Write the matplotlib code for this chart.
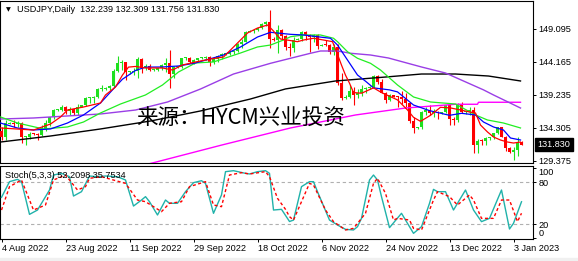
import numpy as np
import matplotlib
matplotlib.use("Agg")
import matplotlib.pyplot as plt
from matplotlib.patches import Rectangle
from matplotlib.transforms import blended_transform_factory

# USDJPY daily bars, 4 Aug 2022 .. 5 Jan 2023 (server has Sunday bars)
opens = [133.85, 133.00, 134.95, 135.05, 134.95, 135.10, 132.90, 133.00, 133.45, 133.40,
         133.30, 134.20, 135.00, 135.90, 136.95, 137.05, 137.50, 136.80, 137.10, 136.60,
         137.50, 137.70, 138.75, 138.75, 138.95, 140.20, 140.20, 140.30, 140.55, 142.80,
         144.00, 144.10, 142.60, 142.70, 142.80, 144.60, 143.20, 143.50, 142.90, 143.00,
         143.20, 143.70, 144.05, 142.40, 143.35, 143.45, 144.70, 144.80, 144.20, 144.45,
         144.70, 144.80, 144.85, 144.10, 144.60, 145.10, 145.30, 145.35, 145.70, 145.80,
         146.90, 147.20, 148.70, 148.80, 149.00, 149.20, 149.90, 150.15, 147.65, 147.50,
         148.95, 148.00, 146.40, 146.30, 147.50, 147.60, 148.70, 148.20, 147.90, 148.20,
         146.60, 146.70, 146.65, 145.60, 146.40, 141.00, 138.80, 139.00, 139.90, 139.30,
         139.50, 140.20, 140.35, 140.45, 142.10, 141.20, 139.60, 138.50, 139.20, 139.00,
         138.90, 138.70, 138.10, 135.30, 134.30, 134.40, 136.70, 137.00, 136.55, 136.60,
         136.55, 136.70, 137.70, 135.60, 135.50, 137.80, 136.65, 136.70, 137.00, 131.80,
         132.40, 132.30, 132.80, 132.90, 133.50, 134.40, 133.00, 131.30, 130.70, 131.00,
         132.239]
highs = [134.45, 135.50, 135.15, 135.55, 135.40, 135.25, 133.10, 133.70, 133.55, 133.60,
         134.70, 135.45, 136.00, 137.20, 137.10, 137.70, 137.65, 137.40, 137.20, 137.85,
         137.80, 138.90, 139.00, 139.10, 140.25, 140.80, 140.40, 140.75, 143.05, 144.99,
         144.50, 144.20, 142.80, 143.20, 144.95, 144.70, 143.90, 143.80, 143.10, 143.30,
         143.90, 144.70, 145.90, 143.60, 143.50, 144.80, 144.90, 144.85, 144.60, 144.80,
         144.90, 145.05, 145.00, 144.80, 145.20, 145.45, 145.45, 145.80, 145.95, 146.95,
         147.65, 148.85, 148.90, 149.10, 149.30, 149.95, 150.30, 151.94, 147.95, 149.70,
         149.05, 148.20, 146.95, 147.85, 147.70, 148.80, 148.80, 148.40, 148.40, 148.40,
         146.80, 147.50, 146.80, 146.80, 146.80, 142.50, 139.20, 140.80, 140.50, 140.20,
         140.75, 140.40, 140.55, 142.25, 142.20, 141.60, 139.70, 139.40, 139.30, 139.10,
         139.90, 139.60, 138.20, 135.95, 134.50, 136.90, 137.40, 137.80, 137.10, 136.90,
         136.75, 137.80, 138.00, 135.90, 138.00, 138.20, 136.85, 137.50, 137.45, 132.70,
         132.60, 133.00, 133.00, 133.60, 134.50, 134.50, 133.10, 131.40, 131.40, 133.00,
         132.309]
lows = [132.50, 132.55, 134.85, 134.40, 134.45, 132.05, 131.75, 132.60, 133.30, 132.55,
        133.10, 133.90, 134.60, 135.65, 136.85, 136.80, 136.35, 136.30, 136.30, 136.30,
        137.40, 137.60, 138.10, 138.00, 138.80, 139.85, 140.05, 140.05, 140.50, 142.70,
        143.00, 141.50, 142.40, 142.25, 141.70, 142.55, 143.00, 142.80, 142.80, 142.80,
        143.00, 142.70, 140.35, 141.80, 143.25, 143.30, 144.40, 143.95, 143.90, 144.10,
        144.60, 144.50, 143.55, 143.90, 144.10, 144.60, 145.20, 145.20, 145.40, 145.70,
        146.30, 147.15, 148.60, 148.50, 148.85, 149.10, 149.60, 146.20, 147.30, 145.50,
        147.55, 146.00, 145.10, 145.60, 147.40, 147.30, 147.40, 145.70, 147.10, 146.10,
        146.50, 146.50, 145.30, 145.20, 140.80, 138.50, 138.60, 138.80, 137.70, 138.80,
        139.10, 139.50, 140.20, 140.30, 140.85, 139.50, 138.05, 138.40, 138.90, 137.50,
        137.90, 137.50, 135.00, 133.60, 134.20, 134.10, 136.20, 136.25, 135.90, 135.70,
        136.40, 136.50, 134.70, 134.70, 135.20, 136.60, 136.40, 136.20, 130.60, 130.60,
        131.70, 131.70, 132.50, 132.60, 133.40, 132.90, 130.90, 130.50, 129.50, 130.10,
        131.756]
closes = [133.00, 135.00, 135.05, 134.95, 135.10, 132.90, 133.00, 133.45, 133.40, 133.30,
          134.20, 135.00, 135.90, 136.95, 137.05, 137.50, 136.80, 137.10, 136.60, 137.50,
          137.70, 138.75, 138.75, 138.95, 140.20, 140.20, 140.30, 140.55, 142.80, 144.00,
          144.10, 142.60, 142.70, 142.80, 144.60, 143.20, 143.50, 142.90, 143.00, 143.20,
          143.70, 144.05, 142.40, 143.35, 143.45, 144.70, 144.80, 144.20, 144.45, 144.70,
          144.80, 144.85, 144.10, 144.60, 145.10, 145.30, 145.35, 145.70, 145.80, 146.90,
          147.20, 148.70, 148.80, 149.00, 149.20, 149.90, 150.15, 147.65, 147.50, 148.95,
          148.00, 146.40, 146.30, 147.50, 147.60, 148.70, 148.20, 147.90, 148.20, 146.60,
          146.70, 146.65, 145.60, 146.40, 141.00, 138.80, 139.00, 139.90, 139.30, 139.50,
          140.20, 140.35, 140.45, 142.10, 141.20, 139.60, 138.50, 139.20, 139.00, 138.90,
          138.70, 138.10, 135.30, 134.30, 134.40, 136.70, 137.00, 136.60, 136.60, 136.55,
          136.70, 137.70, 135.60, 135.50, 137.80, 136.65, 136.70, 137.00, 131.80, 132.40,
          132.30, 132.80, 132.90, 133.50, 134.40, 133.00, 131.30, 130.70, 131.00, 132.25,
          131.830]

tick_bars = [0, 16, 32, 48, 64, 80, 96, 112, 128]
tick_labels = ["4 Aug 2022", "23 Aug 2022", "11 Sep 2022", "29 Sep 2022", "18 Oct 2022",
               "6 Nov 2022", "24 Nov 2022", "13 Dec 2022", "3 Jan 2023"]
price_ticks = [149.095, 144.165, 139.235, 134.305, 129.375]
last_price = 131.830

# moving averages as (bar, price) vertices
ma_red_x = [-0.25, 8, 12.25, 14.75, 16.5, 20.5, 24.75, 26, 28.5, 30.25, 31.75, 33.5, 36, 40.25,
            42.75, 45.25, 48.5, 52.25, 55.5, 59, 61.5, 64, 66.5, 67.75, 69.75, 74, 75.5, 78,
            80.5, 82.75, 84, 85, 86, 87, 88, 90, 93, 95, 99, 101.5, 103, 104.75, 107.25,
            109.75, 112.25, 114.75, 117, 118.5, 119.75, 121.5, 123, 124.75, 126.5, 128, 129.75]
ma_red_y = [134.31, 134.0, 134.90, 135.95, 136.99, 137.44, 138.04, 139.24, 140.43, 142.22,
            143.4, 143.5, 143.27, 143.27, 142.97, 143.72, 144.17, 144.61, 144.91, 147.00,
            148.50, 149.24, 149.69, 148.95, 147.6, 147.2, 147.45, 147.71, 147.45, 147.2,
            145.3, 143.7, 142.2, 141.0, 139.6, 139.5, 140.3, 139.6, 138.5, 137.0, 135.9,
            135.3, 136.2, 137.4, 137.3, 137.0, 136.7, 136.55, 134.75, 133.71, 132.96,
            132.51, 132.21, 132.06, 132.21]
ma_blue_x = [-0.25, 4, 8, 12.25, 16.5, 20.5, 24.75, 27.75, 30.25, 33.5, 36, 40.25, 44.25, 48.5,
             55.5, 59.75, 64, 67.25, 72.25, 75.5, 79, 82.25, 84, 86.5, 89, 91, 93, 97, 99,
             103, 107, 112, 115, 118.5, 120.5, 123, 125.5, 127.25, 129.75]
ma_blue_y = [135.05, 134.30, 134.01, 134.16, 135.05, 136.25, 138.04, 140.0, 141.6, 142.9,
             143.4, 143.42, 143.57, 144.02, 145.21, 146.41, 147.90, 148.6, 148.3, 148.2,
             147.94, 147.71, 146.7, 144.46, 142.22, 141.3, 140.3, 140.0, 139.7, 137.74,
             136.9, 136.2, 136.5, 136.25, 135.2, 134.46, 134.0, 132.81, 132.51]
ma_green_x = [-0.25, 4, 10.5, 16.5, 20.5, 24.75, 29.75, 36, 40.25, 44.25, 48.5, 53, 59.75, 64,
              67.25, 70.5, 72.25, 75.5, 79.75, 81.5, 83, 84, 86.5, 89, 92.25, 94.75, 99, 103,
              107.25, 113.5, 118.5, 121.5, 125.5, 129.75]
ma_green_y = [135.95, 135.05, 134.16, 134.46, 135.2, 136.55, 137.89, 139.24, 140.73, 142.67,
              144.02, 144.17, 145.51, 146.41, 146.70, 147.45, 147.94, 148.2, 148.2, 147.94,
              147.71, 147.2, 145.7, 144.72, 143.97, 142.97, 140.73, 138.94, 138.19, 137.89,
              136.25, 135.5, 135.05, 134.31]
ma_purple_x = [-0.25, 8, 24.75, 33.5, 41.5, 49.75, 58, 67.25, 72.25, 77.25, 79.75, 84, 87.25,
               92.25, 96.75, 105, 111, 120.5, 123, 129.75]
ma_purple_y = [135.65, 135.8, 136.4, 136.99, 138.19, 140.13, 142.37, 143.97, 144.72, 145.47,
               145.81, 145.81, 145.47, 145.21, 144.76, 143.42, 142.52, 140.0, 139.24, 137.29]
ma_black_x = [-0.25, 12.25, 24.75, 37.25, 49.75, 62.25, 71, 83.5, 96, 105, 113.5, 121.75, 129.75]
ma_black_y = [132.21, 133.11, 134.16, 135.35, 136.85, 138.64, 140.14, 141.33, 141.92, 142.37,
              142.37, 142.07, 141.33]
ma_magenta_x = [35, 37.75, 55, 72.25, 88.5, 101, 113.5, 119, 119.25, 129.75]
ma_magenta_y = [128.7, 129.08, 131.75, 134.31, 136.25, 137.29, 137.85, 137.85, 138.15, 138.15]

# Stochastic(5,3,3): main and signal vertices
stoch_k_x = [0, 2, 4, 5, 7, 9, 12, 13, 15, 17, 18, 20, 22, 24, 26, 29, 31, 33, 35, 36,
             37, 39, 41, 42, 44, 46, 48, 50, 51, 53, 55, 56, 58, 61, 62, 64, 66, 67, 68, 70,
             72, 73, 75, 77, 78, 79, 82, 84, 86, 88, 89, 90, 92, 93, 94, 95, 97, 100, 103, 105,
             107, 108, 109, 111, 113, 116, 118, 120, 122, 125, 127, 128, 130]
stoch_k = [58.5, 80.9, 84.2, 80.9, 34.2, 40.4, 69.0, 90.4, 92.8, 88.0,
           60.4, 66.6, 89.0, 88.0, 89.0, 88.0, 83.3, 46.1, 54.7, 59.5,
           52.3, 33.3, 54.7, 50.0, 50.0, 66.6, 79.5, 82.3, 78.5, 35.7,
           61.9, 95.2, 96.6, 92.8, 91.9, 95.2, 96.6, 92.8, 40.4, 41.4,
           24.0, 26.0, 73.8, 80.9, 80.9, 66.6, 26.1, 19.0, 12.8, 11.9,
           16.6, 28.5, 83.3, 90.4, 83.3, 59.5, 15.2, 35.7, 7.1, 16.6,
           49.9, 69.9, 66.6, 66.6, 40.4, 69.0, 40.4, 23.8, 28.5, 69.0,
           13.3, 21.4, 52.21]
stoch_d_x = [0, 2, 5, 8, 11, 13, 16, 19, 21, 22, 25, 31, 34, 36, 40, 42, 45, 47, 51, 53,
             55, 57, 60, 62, 66, 67, 69, 71, 72, 73, 77, 78, 81, 83, 86, 88, 91, 93, 94, 96,
             98, 99, 102, 103, 105, 108, 109, 112, 114, 117, 118, 120, 123, 125, 127, 129, 130]
stoch_d = [40.4, 73.8, 83.3, 40.4, 47.6, 83.3, 90.4, 69.0, 73.8, 85.7,
           88.0, 78.5, 54.7, 52.3, 38.1, 50.0, 52.3, 73.8, 80.9, 47.6,
           45.2, 90.4, 93.8, 91.9, 95.2, 88.0, 57.1, 41.4, 30.9, 26.1,
           78.5, 76.1, 40.4, 23.8, 11.9, 14.2, 35.7, 78.5, 85.7, 64.2,
           26.1, 28.5, 26.1, 14.2, 11.9, 54.7, 66.6, 59.5, 47.6, 61.9,
           54.7, 28.5, 28.5, 54.7, 54.7, 23.8, 35.75]

W, H = 578, 261
FONT = "Liberation Sans"
FS = 6.6

fig = plt.figure(figsize=(W / 100, H / 100), dpi=100)
fig.patch.set_facecolor("white")


def px_axes(x0, y0, x1, y1):
    return fig.add_axes([x0 / W, 1 - y1 / H, (x1 - x0) / W, (y1 - y0) / H])


ax = px_axes(0, 1, 533, 163)
sx = px_axes(0, 166, 533, 239)
xlim = (-0.375, 132.875)

# candles
o = np.array(opens); h = np.array(highs); l = np.array(lows); c = np.array(closes)
x = np.arange(len(o))
bull = c >= o
cols = np.where(bull, "#1ee01e", "#ff0000")
ax.vlines(x, l, h, colors=cols, lw=0.8, zorder=2)
ax.bar(x, np.maximum(np.abs(c - o), 0.15), bottom=np.minimum(o, c), width=0.72,
       color=cols, linewidth=0, zorder=3)

ax.plot(ma_black_x, ma_black_y, color="#000000", lw=1.0, zorder=4)
ax.plot(ma_magenta_x, ma_magenta_y, color="#ff00ff", lw=1.0, zorder=4)
ax.plot(ma_purple_x, ma_purple_y, color="#9a3ee6", lw=1.0, zorder=4)
ax.plot(ma_green_x, ma_green_y, color="#22ee22", lw=0.9, zorder=4)
ax.plot(ma_blue_x, ma_blue_y, color="#0000ff", lw=0.9, zorder=4)
ax.plot(ma_red_x, ma_red_y, color="#ff0000", lw=0.9, zorder=4)

ax.set_xlim(*xlim)
ax.set_ylim(129.076, 153.278)
ax.set_xticks([])
ax.yaxis.tick_right()
ax.set_yticks(price_ticks)
ax.set_yticklabels([f"{v:.3f}" for v in price_ticks], fontsize=FS, family=FONT)
ax.tick_params(axis="y", length=2.5, width=0.7, pad=1.5, colors="black")

trans = blended_transform_factory(ax.transAxes, ax.transData)
ax.text(537.5 / 533, last_price, f"{last_price:.3f}", transform=trans, ha="left",
        va="center", color="white", fontsize=FS, family=FONT, clip_on=False,
        bbox=dict(boxstyle="square,pad=0.25", fc="black", ec="black"))

# stochastic panel
sx.axhline(80, color="#b0b0b0", lw=0.8, ls=(0, (3, 2.5)))
sx.axhline(20, color="#b0b0b0", lw=0.8, ls=(0, (3, 2.5)))
sx.plot(stoch_k_x, stoch_k, color="#20b2aa", lw=1.0, zorder=3)
sx.plot(stoch_d_x, stoch_d, color="#ff0000", lw=1.0, ls=(0, (2.2, 1.8)), zorder=4)
sx.set_xlim(*xlim)
sx.set_ylim(-1.0, 103.3)
sx.yaxis.tick_right()
sx.set_yticks([0, 20, 80, 100])
ylabs = sx.set_yticklabels(["0", "20", "80", "100"], fontsize=FS, family=FONT)
ylabs[0].set_va("bottom")
ylabs[3].set_va("top")
sx.tick_params(axis="y", length=2.5, width=0.7, pad=1.5)
sx.set_xticks(tick_bars)
xlabs = sx.set_xticklabels(tick_labels, fontsize=FS, family=FONT)
for t in xlabs:
    t.set_ha("left")
sx.tick_params(axis="x", length=2.5, width=0.7, pad=1.2)

for a in (ax, sx):
    for s in a.spines.values():
        s.set_linewidth(0.8)
        s.set_color("black")

fig.text(17 / W, 1 - 9.5 / H, "USDJPY,Daily  132.239 132.309 131.756 131.830",
         fontsize=FS, family=FONT, ha="left", va="center")
fig.text(8.5 / W, 1 - 9.5 / H, "\u25bc", fontsize=4.5, ha="center", va="center")
fig.text(5 / W, 1 - 175.5 / H, "Stoch(5,3,3) 52.2098 35.7534",
         fontsize=FS, family=FONT, ha="left", va="center")

fig.text(241 / W, 1 - 119 / H, "来源：HYCM兴业投资", fontsize=15.5,
         family=["Noto Sans CJK SC", "DejaVu Sans"], ha="center", va="center",
         color="black", zorder=10)

fig.patches.append(Rectangle((0, 0), 1, 3 / H, transform=fig.transFigure,
                             color="#f0f0f0", zorder=0))

fig.savefig("out.png", dpi=100)
